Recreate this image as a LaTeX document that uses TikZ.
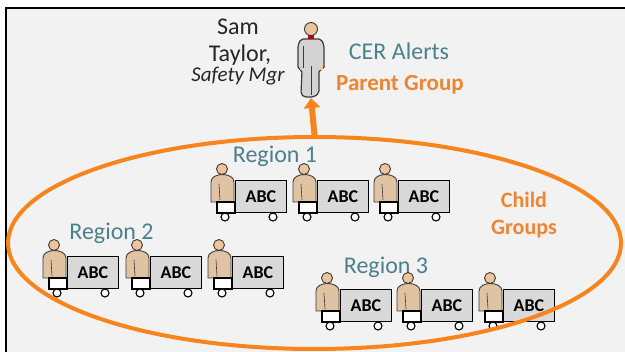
\documentclass[tikz,border=0pt]{standalone}
\usepackage{fontspec}
\setmainfont{Carlito}
\usetikzlibrary{arrows.meta,shapes.geometric}

\definecolor{panel}{HTML}{F2F2F2}
\definecolor{regionteal}{HTML}{4C808D}
\definecolor{grouporange}{HTML}{EE8530}
\definecolor{ringorange}{HTML}{F7841C}
\definecolor{skinfill}{HTML}{DFC3A2}
\definecolor{headfill}{HTML}{EDC49C}
\definecolor{figline}{HTML}{3A3A3A}
\definecolor{suitfill}{HTML}{D3D3D3}
\definecolor{boxgray}{HTML}{D9D9D9}

\tikzset{
    skin/.style={fill=skinfill, draw=figline, line width=0.9pt},
    head/.style={fill=headfill, draw=figline, line width=0.9pt},
    cargo/.style={draw=black, fill=boxgray, line width=1pt, minimum width=51pt,
        minimum height=32pt, inner sep=0pt, font=\bfseries\fontsize{18}{18}\selectfont},
    wheel/.style={draw=black, fill=white, line width=1.1pt},
    region/.style={anchor=base, text=regionteal, font=\fontsize{24}{24}\selectfont},
    mgrtext/.style={anchor=base, text=black!85, font=\fontsize{24}{24}\selectfont},
    grouplabel/.style={anchor=base, text=grouporange, font=\bfseries\fontsize{22}{22}\selectfont}
}

% driver with his truck; #1 name, (#2,#3) top left corner of the cargo box
\newcommand{\drivertruck}[3]{%
    \begin{scope}[shift={(#2,#3)}]
        \draw[skin] (-24,22) -- (-24,2) .. controls (-24,-8) and (-1,-8) .. (-1,2) -- (-1,22) -- cycle;
        \draw[figline, line width=0.6pt] (-16,4) -- (-15,20);
        \draw[head] (-13,-11) circle (5.5);
        \draw[wheel] (-18,22) rectangle (0,33);
        \node[cargo, anchor=north west] (#1) at (0,0) {ABC};
        \draw[wheel] (-10,37) circle (4);
        \draw[wheel] (38,37) circle (4);
    \end{scope}
}

\begin{document}
\begin{tikzpicture}[x=1pt, y=-1pt]
    \useasboundingbox (0,0) rectangle (625,352);
    \fill[white] (0,0) rectangle (625,352);
    \fill[panel] (6,8) rectangle (625,352);
    \draw[line width=1.5pt] (6,352) -- (6,8) -- (625,8);

    % safety manager
    \draw[fill=suitfill, draw=figline, line width=1.2pt, rounded corners=2pt]
        (301,39) -- (321,39) -- (324,45) -- (324,69) -- (319,70) -- (319,93)
        -- (314,97) -- (304,97) -- (301,94) -- (302,70) -- (298,69) -- (298,45) -- cycle;
    \draw[figline, line width=0.6pt] (311,66) -- (311,95);
    \draw[figline, line width=0.6pt] (303,46) -- (303,68);
    \fill[headfill] (299.5,66) rectangle (302,70);
    \fill[headfill] (320,66) rectangle (322.5,70);
    \fill[red!75!black] (308,35) rectangle (314,39);
    \draw[head] (311,29) circle (6.5);
    \coordinate (mgr) at (311,98);

    \node[mgrtext] (sam) at (238,35) {Sam};
    \node[mgrtext] (taylor) at (240,61.5) {Taylor,};
    \node[anchor=base, text=black!85, font=\itshape\fontsize{21}{21}\selectfont] (role) at (238,82) {Safety Mgr};
    \node[anchor=base, text=regionteal, font=\fontsize{24}{24}\selectfont] (alerts) at (399,60) {CER Alerts};
    \node[anchor=base, text=grouporange, font=\bfseries\fontsize{23}{23}\selectfont] (parent) at (400,91) {Parent Group};

    % regions
    \node[region] (r1) at (275,163) {Region 1};
    \node[region] (r2) at (111.5,240) {Region 2};
    \node[region] (r3) at (386,274) {Region 3};

    \drivertruck{t11}{235}{180}
    \drivertruck{t12}{317}{180}
    \drivertruck{t13}{398}{180}
    \drivertruck{t21}{67}{256}
    \drivertruck{t22}{150}{256}
    \drivertruck{t23}{232}{256}
    \drivertruck{t31}{340}{289}
    \drivertruck{t32}{421}{289}
    \drivertruck{t33}{503}{289}

    \node[grouplabel] (child) at (524,208) {Child};
    \node[grouplabel] (groups) at (524,235) {Groups};

    \node[draw=ringorange, line width=4pt, ellipse, minimum width=613pt,
        minimum height=212pt, inner sep=0pt] (children) at (314.5,243) {};
    \draw[ringorange, line width=6pt, -{Triangle[width=16pt,length=10pt]}] (children.north) -- (mgr);
\end{tikzpicture}
\end{document}
